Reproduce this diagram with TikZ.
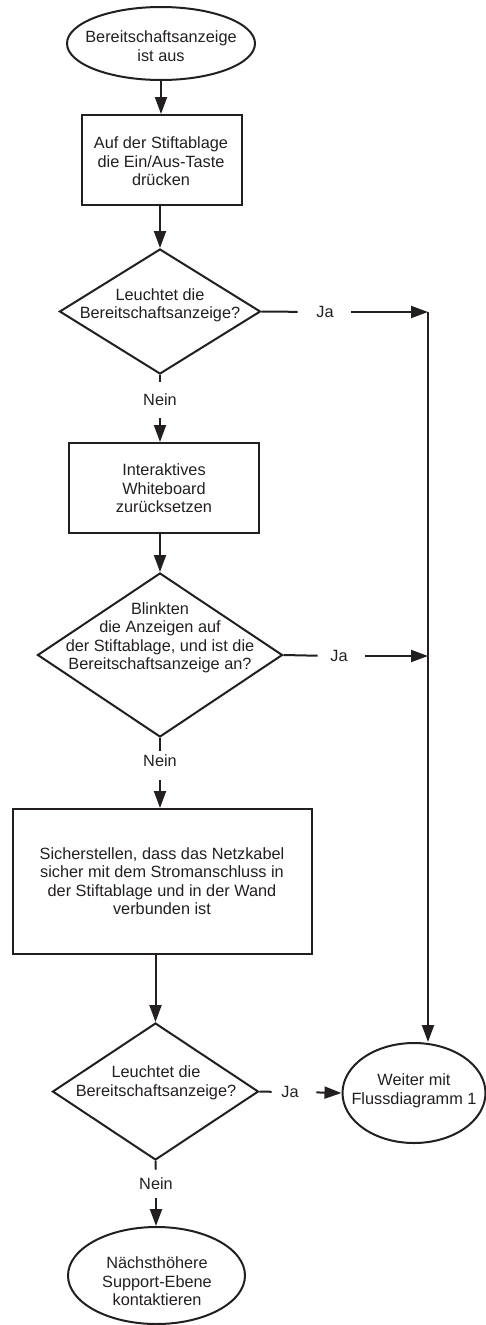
\documentclass[tikz,border=0pt]{standalone}
\usepackage{fontspec}
\setmainfont{Liberation Sans}
\usetikzlibrary{shapes.geometric,arrows.meta}
\definecolor{ink}{HTML}{231F20}
\tikzset{
  shp/.style={draw=ink, line width=2pt, inner sep=0pt},
  boxn/.style={shp, rectangle},
  ell/.style={shp, ellipse},
  dia/.style={shp, diamond},
  txt/.style={inner sep=0pt, align=center, text=ink, font=\fontsize{16.3}{18.5}\selectfont},
  lbl/.style={inner sep=0pt, text=ink, font=\fontsize{16.3}{18.5}\selectfont},
  conn/.style={draw=ink, line width=2pt},
  arr/.style={conn, -{Triangle[length=17pt,width=12pt]}}
}
\begin{document}
\begin{tikzpicture}[x=1pt,y=-1pt]
\useasboundingbox (0,0) rectangle (486,1325);
% shapes
\node[ell, minimum width=188pt, minimum height=73pt] (start) at (161,43.5) {};
\node[boxn, minimum width=160pt, minimum height=90pt] (box1) at (162,160) {};
\node[dia, minimum width=201pt, minimum height=125pt] (d1) at (160,311.5) {};
\node[boxn, minimum width=190pt, minimum height=90pt] (box2) at (164,488) {};
\node[dia, minimum width=245pt, minimum height=164pt] (d2) at (160,655) {};
\node[boxn, minimum width=299pt, minimum height=145pt] (box3) at (162.5,881.5) {};
\node[dia, minimum width=206pt, minimum height=137pt] (d3) at (155.5,1091.5) {};
\node[ell, minimum width=143pt, minimum height=100pt] (weiter) at (414,1093) {};
\node[ell, minimum width=177pt, minimum height=97pt] (endn) at (156.5,1275.5) {};
% texts
\node[txt] (tstart) at (161,46) {Bereitschaftsanzeige\\ist aus};
\node[txt] (tbox1) at (161,161.5) {Auf der Stiftablage\\die Ein/Aus-Taste\\drücken};
\node[txt] (td1) at (160,305.5) {Leuchtet die\\Bereitschaftsanzeige?};
\node[txt] (tbox2) at (164,488.5) {Interaktives\\Whiteboard\\zurücksetzen};
\node[txt] (td2) at (160,638) {Blinkten\\die Anzeigen auf\\der Stiftablage, und ist die\\Bereitschaftsanzeige an?};
\node[txt] (tbox3) at (162,881) {Sicherstellen, dass das Netzkabel\\sicher mit dem Stromanschluss in\\der Stiftablage und in der Wand\\verbunden ist};
\node[txt] (td3) at (156,1083) {Leuchtet die\\Bereitschaftsanzeige?};
\node[txt] (tweiter) at (414,1091) {Weiter mit\\Flussdiagramm 1};
\node[txt] (tend) at (157,1281.5) {Nächsthöhere\\Support-Ebene\\kontaktieren};
% labels
\node[lbl] (ja1) at (325,312) {Ja};
\node[lbl] (ja2) at (339,656) {Ja};
\node[lbl] (ja3) at (290,1092) {Ja};
\node[lbl] (nein1) at (160,400) {Nein};
\node[lbl] (nein2) at (160,761) {Nein};
\node[lbl] (nein3) at (156,1184) {Nein};
\coordinate (j1) at (428,312);
\coordinate (j2) at (428,656);
% connectors
\draw[arr] (start.south) -- (start.south |- box1.north);
\draw[arr] (box1.south -| d1.north) -- (d1.north);
\draw[conn, shorten >=12.2pt] (d1.south) -- (nein1.north);
\draw[arr, shorten <=12.2pt] (nein1.south) -- (nein1.south |- box2.north);
\draw[arr] (box2.south -| d2.north) -- (d2.north);
\draw[conn, shorten >=3.5pt] (d2.south) -- (nein2.north);
\draw[arr, shorten <=13pt] (nein2.south) -- (nein2.south |- box3.north);
\draw[arr] (box3.south -| d3.north) -- (d3.north);
\draw[conn, shorten >=8.2pt] (d3.south) -- (nein3.north);
\draw[arr, shorten <=8.2pt] (nein3.south) -- (nein3.south |- endn.north);
\draw[conn, shorten >=18.5pt] (d1.east) -- (ja1.west);
\draw[arr, shorten <=17.5pt] (ja1.east) -- (j1);
\draw[conn, shorten >=12.5pt] (d2.east) -- (ja2.west);
\draw[arr, shorten <=17.5pt] (ja2.east) -- (j2);
\draw[conn, shorten >=9.5pt] (d3.east) -- (ja3.west);
\draw[arr, shorten <=17.5pt] (ja3.east) -- (weiter.west);
\draw[arr] (j1) -- (j1 |- weiter.north);
\end{tikzpicture}
\end{document}
